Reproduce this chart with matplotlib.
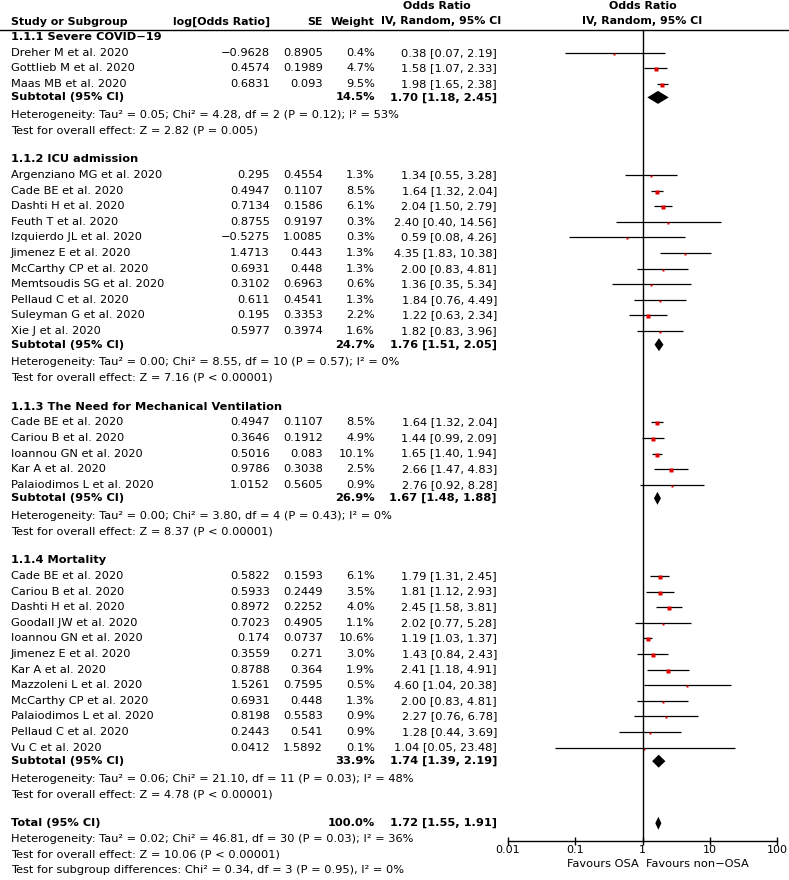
import matplotlib
matplotlib.use("Agg")
import matplotlib.pyplot as plt
from matplotlib.ticker import NullLocator

# ---------------------------------------------------------------
# data (OSA vs non-OSA, COVID-19 outcomes)
# ---------------------------------------------------------------
group_titles = ["1.1.1 Severe COVID\u221219", "1.1.2 ICU admission",
                "1.1.3 The Need for Mechanical Ventilation", "1.1.4 Mortality"]

study_group = [0, 0, 0,
               1, 1, 1, 1, 1, 1, 1, 1, 1, 1, 1,
               2, 2, 2, 2, 2,
               3, 3, 3, 3, 3, 3, 3, 3, 3, 3, 3, 3]
study_names = ["Dreher M et al. 2020", "Gottlieb M et al. 2020", "Maas MB et al. 2020",
               "Argenziano MG et al. 2020", "Cade BE et al. 2020", "Dashti H et al. 2020",
               "Feuth T et al. 2020", "Izquierdo JL et al. 2020", "Jimenez E et al. 2020",
               "McCarthy CP et al. 2020", "Memtsoudis SG et al. 2020", "Pellaud C et al. 2020",
               "Suleyman G et al. 2020", "Xie J et al. 2020",
               "Cade BE et al. 2020", "Cariou B et al. 2020", "Ioannou GN et al. 2020",
               "Kar A et al. 2020", "Palaiodimos L et al. 2020",
               "Cade BE et al. 2020", "Cariou B et al. 2020", "Dashti H et al. 2020",
               "Goodall JW et al. 2020", "Ioannou GN et al. 2020", "Jimenez E et al. 2020",
               "Kar A et al. 2020", "Mazzoleni L et al. 2020", "McCarthy CP et al. 2020",
               "Palaiodimos L et al. 2020", "Pellaud C et al. 2020", "Vu C et al. 2020"]
log_or = [-0.9628, 0.4574, 0.6831,
          0.295, 0.4947, 0.7134, 0.8755, -0.5275, 1.4713, 0.6931, 0.3102, 0.611, 0.195, 0.5977,
          0.4947, 0.3646, 0.5016, 0.9786, 1.0152,
          0.5822, 0.5933, 0.8972, 0.7023, 0.174, 0.3559, 0.8788, 1.5261, 0.6931, 0.8198,
          0.2443, 0.0412]
se = [0.8905, 0.1989, 0.093,
      0.4554, 0.1107, 0.1586, 0.9197, 1.0085, 0.443, 0.448, 0.6963, 0.4541, 0.3353, 0.3974,
      0.1107, 0.1912, 0.083, 0.3038, 0.5605,
      0.1593, 0.2449, 0.2252, 0.4905, 0.0737, 0.271, 0.364, 0.7595, 0.448, 0.5583,
      0.541, 1.5892]
weight = [0.4, 4.7, 9.5,
          1.3, 8.5, 6.1, 0.3, 0.3, 1.3, 1.3, 0.6, 1.3, 2.2, 1.6,
          8.5, 4.9, 10.1, 2.5, 0.9,
          6.1, 3.5, 4.0, 1.1, 10.6, 3.0, 1.9, 0.5, 1.3, 0.9, 0.9, 0.1]
or_est = [0.38, 1.58, 1.98,
          1.34, 1.64, 2.04, 2.40, 0.59, 4.35, 2.00, 1.36, 1.84, 1.22, 1.82,
          1.64, 1.44, 1.65, 2.66, 2.76,
          1.79, 1.81, 2.45, 2.02, 1.19, 1.43, 2.41, 4.60, 2.00, 2.27, 1.28, 1.04]
or_lo = [0.07, 1.07, 1.65,
         0.55, 1.32, 1.50, 0.40, 0.08, 1.83, 0.83, 0.35, 0.76, 0.63, 0.83,
         1.32, 0.99, 1.40, 1.47, 0.92,
         1.31, 1.12, 1.58, 0.77, 1.03, 0.84, 1.18, 1.04, 0.83, 0.76, 0.44, 0.05]
or_hi = [2.19, 2.33, 2.38,
         3.28, 2.04, 2.79, 14.56, 4.26, 10.38, 4.81, 5.34, 4.49, 2.34, 3.96,
         2.04, 2.09, 1.94, 4.83, 8.28,
         2.45, 2.93, 3.81, 5.28, 1.37, 2.43, 4.91, 20.38, 4.81, 6.78, 3.69, 23.48]

group_weight = [14.5, 24.7, 26.9, 33.9]
group_or = [1.70, 1.76, 1.67, 1.74]
group_lo = [1.18, 1.51, 1.48, 1.39]
group_hi = [2.45, 2.05, 1.88, 2.19]
group_het = ["Heterogeneity: Tau\u00b2 = 0.05; Chi\u00b2 = 4.28, df = 2 (P = 0.12); I\u00b2 = 53%",
             "Heterogeneity: Tau\u00b2 = 0.00; Chi\u00b2 = 8.55, df = 10 (P = 0.57); I\u00b2 = 0%",
             "Heterogeneity: Tau\u00b2 = 0.00; Chi\u00b2 = 3.80, df = 4 (P = 0.43); I\u00b2 = 0%",
             "Heterogeneity: Tau\u00b2 = 0.06; Chi\u00b2 = 21.10, df = 11 (P = 0.03); I\u00b2 = 48%"]
group_test = ["Test for overall effect: Z = 2.82 (P = 0.005)",
              "Test for overall effect: Z = 7.16 (P < 0.00001)",
              "Test for overall effect: Z = 8.37 (P < 0.00001)",
              "Test for overall effect: Z = 4.78 (P < 0.00001)"]

total_weight = 100.0
total_or, total_lo, total_hi = 1.72, 1.55, 1.91
total_notes = ["Heterogeneity: Tau\u00b2 = 0.02; Chi\u00b2 = 46.81, df = 30 (P = 0.03); I\u00b2 = 36%",
               "Test for overall effect: Z = 10.06 (P < 0.00001)",
               "Test for subgroup differences: Chi\u00b2 = 0.34, df = 3 (P = 0.95), I\u00b2 = 0%"]

tick_values = [0.01, 0.1, 1, 10, 100]
tick_labels = ["0.01", "0.1", "1", "10", "100"]

# ---------------------------------------------------------------
# layout (pixel units, figure is 789 x 880)
# ---------------------------------------------------------------
W, H = 789, 880
FS = 8.2
HFS = 7.9  # bold header text
PITCH = 15.6
GAP = 0.85 * PITCH
X_NAME, X_LOG, X_SE, X_W, X_CI = 11, 270, 323, 375, 497
AXIS_Y = 841

plt.rcParams["font.family"] = ["DejaVu Sans"]

fig = plt.figure(figsize=(W / 100, H / 100), dpi=100)
tx = fig.add_axes([0, 0, 1, 1])
tx.set_xlim(0, W)
tx.set_ylim(H, 0)
tx.axis("off")

fx = fig.add_axes([508 / W, 0, (777 - 508) / W, 1])
fx.patch.set_alpha(0)
fx.set_xscale("log")
fx.set_xlim(0.01, 100)
fx.set_ylim(H, 0)


def fmt_ci(e, lo, hi):
    return f"{e:.2f} [{lo:.2f}, {hi:.2f}]"


def diamond(y, e, lo, hi):
    fx.fill([lo, e, hi, e], [y, y - 6.5, y, y + 6.5], color="black", lw=0)


# header
tx.text(X_NAME, 22, "Study or Subgroup", fontsize=HFS, fontweight="bold", va="center")
tx.text(X_LOG, 22, "log[Odds Ratio]", fontsize=HFS, fontweight="bold", va="center", ha="right")
tx.text(X_SE, 22, "SE", fontsize=HFS, fontweight="bold", va="center", ha="right")
tx.text(X_W, 22, "Weight", fontsize=HFS, fontweight="bold", va="center", ha="right")
tx.text(437, 6, "Odds Ratio", fontsize=HFS, fontweight="bold", va="center", ha="center")
tx.text(441, 21, "IV, Random, 95% CI", fontsize=HFS, fontweight="bold", va="center", ha="center")
fx.text(1, 6, "Odds Ratio", fontsize=HFS, fontweight="bold", va="center", ha="center")
fx.text(1, 21, "IV, Random, 95% CI", fontsize=HFS, fontweight="bold", va="center", ha="center")
tx.axhline(30, color="black", lw=1)

y = 37.0
for g, title in enumerate(group_titles):
    tx.text(X_NAME, y, title, fontsize=FS, fontweight="bold", va="center")
    y += PITCH
    for i in [k for k, s in enumerate(study_group) if s == g]:
        tx.text(X_NAME, y, study_names[i], fontsize=FS, va="center")
        tx.text(X_LOG, y, str(log_or[i]).replace("-", "\u2212"), fontsize=FS, va="center", ha="right")
        tx.text(X_SE, y, str(se[i]), fontsize=FS, va="center", ha="right")
        tx.text(X_W, y, f"{weight[i]:.1f}%", fontsize=FS, va="center", ha="right")
        tx.text(X_CI, y, fmt_ci(or_est[i], or_lo[i], or_hi[i]), fontsize=FS, va="center", ha="right")
        fx.plot([or_lo[i], or_hi[i]], [y, y], color="black", lw=0.9, solid_capstyle="butt")
        fx.plot(or_est[i], y + 1, marker="s", color="#e00000", mec="none",
                ms=1.4 + 0.6 * weight[i] ** 0.5)
        y += PITCH
    ys = y - 2
    tx.text(X_NAME, ys, "Subtotal (95% CI)", fontsize=FS, fontweight="bold", va="center")
    tx.text(X_W, ys, f"{group_weight[g]:.1f}%", fontsize=FS, fontweight="bold", va="center", ha="right")
    tx.text(X_CI, ys, fmt_ci(group_or[g], group_lo[g], group_hi[g]), fontsize=FS,
            fontweight="bold", va="center", ha="right")
    diamond(ys, group_or[g], group_lo[g], group_hi[g])
    y += PITCH
    tx.text(X_NAME, y, group_het[g], fontsize=FS, va="center")
    y += PITCH
    tx.text(X_NAME, y, group_test[g], fontsize=FS, va="center")
    y += PITCH + GAP

tx.text(X_NAME, y, "Total (95% CI)", fontsize=FS, fontweight="bold", va="center")
tx.text(X_W, y, f"{total_weight:.1f}%", fontsize=FS, fontweight="bold", va="center", ha="right")
tx.text(X_CI, y, fmt_ci(total_or, total_lo, total_hi), fontsize=FS, fontweight="bold",
        va="center", ha="right")
diamond(y, total_or, total_lo, total_hi)
for note in total_notes:
    y += PITCH
    tx.text(X_NAME, y, note, fontsize=FS, va="center")

# line of no effect and the OR axis
fx.plot([1, 1], [30, AXIS_Y], color="black", lw=1)
for side in ["top", "left", "right"]:
    fx.spines[side].set_visible(False)
fx.spines["bottom"].set_position(("data", AXIS_Y))
fx.spines["bottom"].set_linewidth(1)
fx.set_xticks(tick_values)
fx.set_xticklabels(tick_labels, fontsize=8.0)
fx.xaxis.set_minor_locator(NullLocator())
fx.tick_params(axis="x", direction="inout", length=6, width=1, pad=0)
fx.set_yticks([])
fx.text(0.88, 864, "Favours OSA", fontsize=FS, ha="right", va="center")
fx.text(1.13, 864, "Favours non\u2212OSA", fontsize=FS, ha="left", va="center")

fig.savefig("out.png", dpi=100)
